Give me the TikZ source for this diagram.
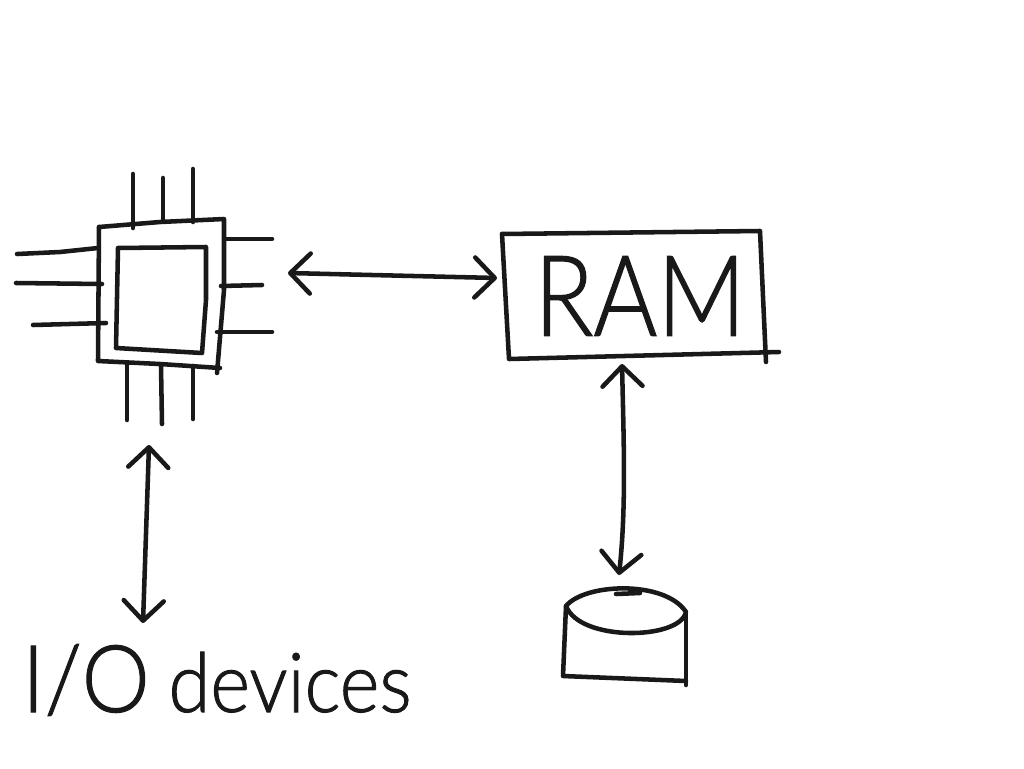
\documentclass[tikz,border=0pt]{standalone}
\usepackage{fontspec}
\usepackage{graphicx}
\usetikzlibrary{arrows.meta}
\newfontfamily\handfont[FakeBold=1.2,AutoFakeBold=1.2]{Lato Light}
\tikzset{
  x=0.75pt,y=-0.75pt,
  ink/.style={line width=3.4pt,color=black!90,line cap=round,line join=round},
  pin/.style={ink},
  twoway/.style={ink,{Straight Barb[length=15pt,width=30pt,line width=3.4pt,round]}-{Straight Barb[length=15pt,width=30pt,line width=3.4pt,round]}},
  box/.style={inner sep=0pt,minimum size=0pt},
  word/.style={inner sep=0pt,color=black!90}
}
\begin{document}
\begin{tikzpicture}
\useasboundingbox (0,0) rectangle (1024,768);
% CPU
\node[box,minimum width=94.5pt,minimum height=109.5pt] (cpu) at (160,293) {};
\draw[ink] (99,227) -- (160,222) -- (224,219) -- (224,290) -- (217,373);
\draw[ink] (99,227) -- (98,361) -- (160,364) -- (220,368);
\draw[ink] (118,248) -- (206,247) -- (206,300) -- (202,353) -- (116,348) -- (118,248);
% pins
\draw[pin] (133,174) -- (133,228);
\draw[pin] (163,178) -- (163,220);
\draw[pin] (193,169) -- (193,222);
\draw[pin] (17,254) -- (60,252) -- (98,248);
\draw[pin] (16,283) -- (102,284);
\draw[pin] (33,325) -- (106,323);
\draw[pin] (226,239) -- (272,239);
\draw[pin] (221,286) -- (262,285);
\draw[pin] (217,332) -- (272,332);
\draw[pin] (127,364) -- (127,420);
\draw[pin] (161,366) -- (162,424);
\draw[pin] (193,366) -- (193,419);
% RAM
\node[box,minimum width=196.5pt,minimum height=96pt] (ram) at (635,296) {};
\draw[ink] (502,234) -- (760,231) -- (766,362);
\draw[ink] (502,234) -- (509,359) -- (779,352);
\node[word,font=\handfont\fontsize{84}{84}\selectfont] (ramtext) at (640,296) {\scalebox{0.87}[1]{RAM}};
% Disk
\node[box,minimum width=91.5pt,minimum height=75pt] (disk) at (625,633) {};
\draw[ink] (566,606) .. controls (585,583) and (665,580) .. (686,612) .. controls (680,640) and (580,642) .. (566,606) -- cycle;
\draw[ink] (616,594) -- (640,593);
\draw[ink] (566,606) -- (563,676) -- (686,681);
\draw[ink] (686,612) -- (686,685);
% I/O
\node[word,anchor=base west] (io) at (22,712) {\scalebox{0.92}[1]{\handfont\fontsize{70}{70}\selectfont I/O\hspace{0.22em}\fontsize{62}{62}\selectfont devices}};
% Connectors
\coordinate (cpuR) at (288,273);
\coordinate (ramL) at (497,278);
\coordinate (ramB) at (622,364);
\coordinate (diskT) at (619,575);
\coordinate (cpuB) at (149,445);
\coordinate (ioT) at (143,623);
\draw[twoway] (cpuR) -- (ramL);
\draw[twoway] (ramB) .. controls (624,450) and (626,510) .. (diskT);
\draw[twoway] (cpuB) -- (ioT);
\end{tikzpicture}
\end{document}
